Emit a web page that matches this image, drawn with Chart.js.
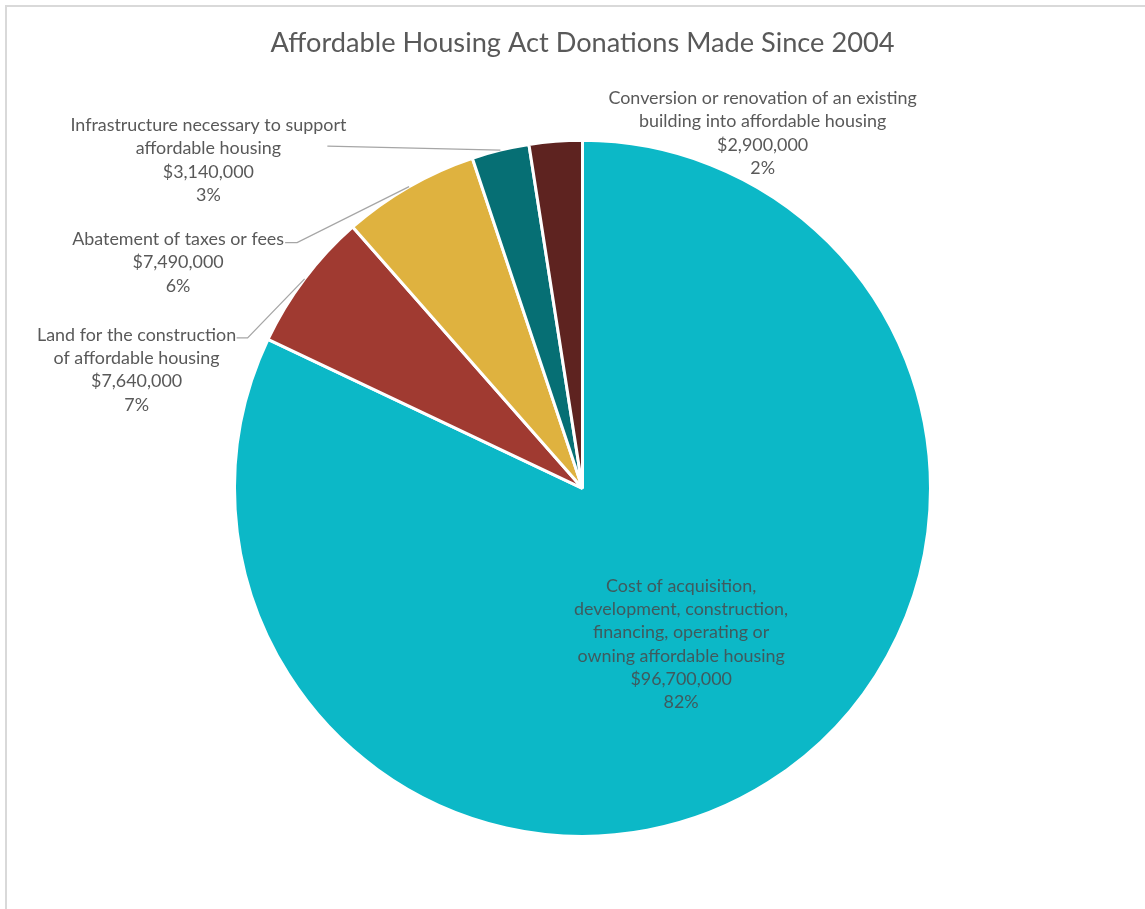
<!DOCTYPE html>
<html>
<head>
<meta charset="utf-8">
<script src="https://cdn.jsdelivr.net/npm/chart.js@4"></script>
<style>
  html, body { margin: 0; padding: 0; background: #fff; overflow: hidden; }
  #frame {
    position: absolute; left: 5px; top: 5px; width: 1200px; height: 1000px;
    border-left: 2px solid #d9d9d9; border-top: 2px solid #d9d9d9;
  }
  #chart { position: absolute; left: 0; top: 0; }
</style>
</head>
<body>
<div id="frame"></div>
<canvas id="chart"></canvas>
<script>
// data
const categories = [
  'Cost of acquisition, development, construction, financing, operating or owning affordable housing',
  'Land for the construction of affordable housing',
  'Abatement of taxes or fees',
  'Infrastructure necessary to support affordable housing',
  'Conversion or renovation of an existing building into affordable housing'
];
const amounts = [96700000, 7640000, 7490000, 3140000, 2900000];
const percentLabels = ['82%', '7%', '6%', '3%', '2%'];
const labelLines = [
  ['Cost of acquisition,', 'development, construction,', 'financing, operating or', 'owning affordable housing'],
  ['Land for the construction', 'of affordable housing'],
  ['Abatement of taxes or fees'],
  ['Infrastructure necessary to support', 'affordable housing'],
  ['Conversion or renovation of an existing', 'building into affordable housing']
];
const colors = ['#0cb8c7', '#a03a31', '#dfb23f', '#066f74', '#5e2320'];

// label placement, relative to the outer middle point of each slice
const labelLayout = [
  { inside: 0.53 },
  { dx: -168, dy: 91, leader: [[-57, 59], [-68, 59]] },
  { dx: -231, dy: 76, leader: [[-112, 56], [-124, 56]] },
  { dx: -292, dy: 10, leader: [[-173, -4]] },
  { dx: 207, dy: -8 }
];

const FONT = 'Lato, "Open Sans", sans-serif';
const LINE_H = 23.3;

const fmtMoney = v => '$' + v.toLocaleString('en-US');

const sliceLabels = {
  id: 'sliceLabels',
  afterDatasetsDraw(chart) {
    const ctx = chart.ctx;
    const meta = chart.getDatasetMeta(0);
    ctx.save();
    ctx.font = '17.9px ' + FONT;
    ctx.textAlign = 'center';
    ctx.textBaseline = 'middle';
    meta.data.forEach((arc, i) => {
      const p = arc.getProps(['x', 'y', 'startAngle', 'endAngle', 'outerRadius'], true);
      const mid = (p.startAngle + p.endAngle) / 2;
      const ox = p.x + Math.cos(mid) * p.outerRadius;
      const oy = p.y + Math.sin(mid) * p.outerRadius;
      const lay = labelLayout[i];
      let cx, cy;
      if (lay.inside) {
        cx = p.x + Math.cos(mid) * p.outerRadius * lay.inside;
        cy = p.y + Math.sin(mid) * p.outerRadius * lay.inside;
      } else {
        cx = ox + lay.dx;
        cy = oy + lay.dy;
      }
      if (lay.leader) {
        ctx.beginPath();
        ctx.strokeStyle = '#a6a6a6';
        ctx.lineWidth = 1.3;
        ctx.moveTo(ox, oy);
        lay.leader.forEach(pt => ctx.lineTo(ox + pt[0], oy + pt[1]));
        ctx.stroke();
      }
      const lines = labelLines[i].concat([fmtMoney(amounts[i]), percentLabels[i]]);
      ctx.fillStyle = lay.inside ? '#3f5a5e' : '#595959';
      const y0 = cy - (lines.length - 1) * LINE_H / 2;
      lines.forEach((t, k) => ctx.fillText(t, cx, y0 + k * LINE_H));
    });
    ctx.restore();
  }
};

const canvas = document.getElementById('chart');
canvas.width = 1145;
canvas.height = 909;

new Chart(canvas.getContext('2d'), {
  type: 'pie',
  data: {
    labels: categories,
    datasets: [{
      data: amounts,
      backgroundColor: colors,
      borderColor: '#ffffff',
      borderWidth: 3
    }]
  },
  options: {
    responsive: false,
    animation: false,
    layout: { padding: { left: 233, right: 213, top: 0, bottom: 71 } },
    plugins: {
      legend: { display: false },
      tooltip: { enabled: false },
      title: {
        display: true,
        text: 'Affordable Housing Act Donations Made Since 2004',
        color: '#595959',
        font: { family: FONT, size: 27.2, weight: 'normal', lineHeight: 1.2 },
        padding: { top: 27, bottom: 79 }
      }
    }
  },
  plugins: [sliceLabels]
});
</script>
</body>
</html>
